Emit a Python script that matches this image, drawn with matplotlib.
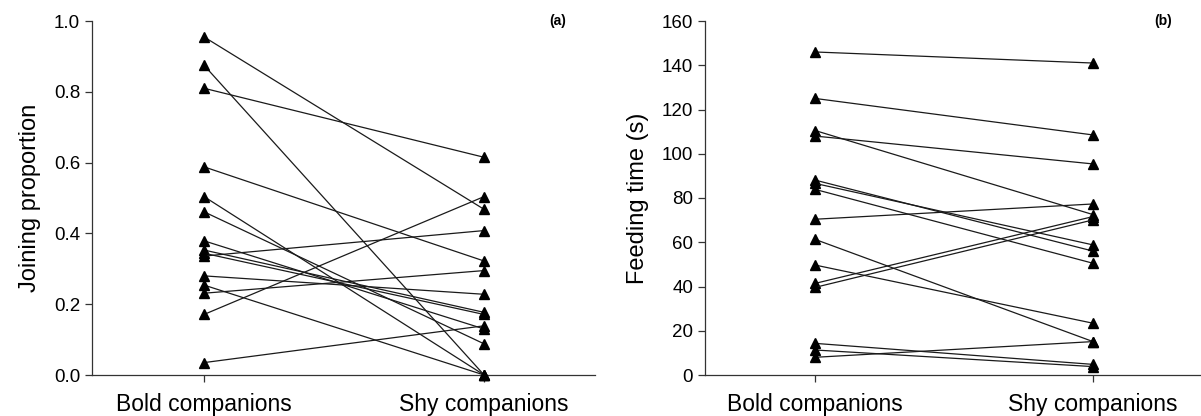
import matplotlib
matplotlib.use("Agg")
import matplotlib.pyplot as plt

plt.rcParams['font.family'] = ['Liberation Sans', 'DejaVu Sans']

categories = ["Bold companions", "Shy companions"]

# Panel (a): joining proportion
bold_a = [0.955, 0.875, 0.81, 0.588, 0.504, 0.461, 0.379, 0.353, 0.344, 0.336, 0.280, 0.254, 0.231, 0.171, 0.035]
shy_a = [0.468, 0.0, 0.615, 0.322, 0.0, 0.088, 0.130, 0.177, 0.171, 0.408, 0.228, 0.0, 0.295, 0.504, 0.139]

# Panel (b): feeding time (s)
bold_b = [146, 125, 110.5, 108, 88.1, 86.6, 83.9, 70.4, 61.3, 49.7, 41.4, 39.6, 14.3, 11.3, 8.0]
shy_b = [141, 108.5, 72.5, 95.4, 56.0, 58.8, 50.5, 77.3, 15.1, 23.4, 71.6, 70.1, 4.8, 3.8, 15.1]

W, H = 1201, 416
fig = plt.figure(figsize=(W / 100, H / 100), dpi=100)

def px_axes(x0, x1, y0, y1):
    return fig.add_axes([x0 / W, 1 - y1 / H, (x1 - x0) / W, (y1 - y0) / H])

ax1 = px_axes(92, 595, 21, 375)
ax2 = px_axes(705, 1200, 21, 375)

def draw(ax, bold, shy, ylim, yticks, yticklabels, ylabel, tag, xlim):
    xs = [1, 2]
    for b, s in zip(bold, shy):
        ax.plot(xs, [b, s], color='#1a1a1a', lw=0.9, marker='^', ms=7.5,
                mfc='black', mec='black', clip_on=False, zorder=3)
    ax.set_xlim(*xlim)
    ax.set_ylim(*ylim)
    ax.set_xticks(xs)
    ax.set_xticklabels(categories, fontsize=16.5)
    ax.set_yticks(yticks)
    ax.set_yticklabels(yticklabels, fontsize=13.5)
    ax.set_ylabel(ylabel, fontsize=17, labelpad=9)
    for sp in ['top', 'right']:
        ax.spines[sp].set_visible(False)
    for sp in ['left', 'bottom']:
        ax.spines[sp].set_linewidth(0.9)
        ax.spines[sp].set_color('#333333')
    ax.tick_params(axis='y', direction='out', length=5, width=0.9, colors='#333333', labelcolor='black')
    ax.tick_params(axis='x', direction='out', length=5, width=0.9, colors='#333333', labelcolor='black', pad=8)
    ax.text(0.925, 1.0, tag, transform=ax.transAxes, fontsize=10, fontweight='bold',
            ha='center', va='center')

draw(ax1, bold_a, shy_a, (0, 1.0), [0, 0.2, 0.4, 0.6, 0.8, 1.0],
     ["0.0", "0.2", "0.4", "0.6", "0.8", "1.0"], "Joining proportion", "(a)", (0.6, 2.396))
draw(ax2, bold_b, shy_b, (0, 160), list(range(0, 161, 20)),
     [str(v) for v in range(0, 161, 20)], "Feeding time (s)", "(b)", (0.604, 2.385))

fig.savefig("out.png", dpi=100)
